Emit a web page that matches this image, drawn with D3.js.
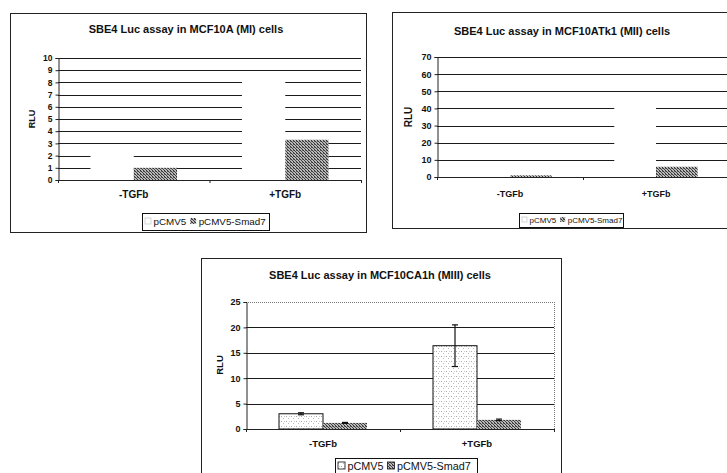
<!DOCTYPE html>
<html><head><meta charset="utf-8">
<script src="https://cdn.jsdelivr.net/npm/d3@7"></script>
<style>
html,body{margin:0;padding:0;background:#fff;}
svg{display:block;font-family:"Liberation Sans",Arial,sans-serif;}
</style></head>
<body>
<svg id="c" width="727" height="473"></svg>
<script>
// ---------- data ----------
const categories = ["-TGFb", "+TGFb"];
const seriesNames = ["pCMV5", "pCMV5-Smad7"];
const titles = [
  "SBE4 Luc assay in MCF10A (MI) cells",
  "SBE4 Luc assay in MCF10ATk1 (MII) cells",
  "SBE4 Luc assay in MCF10CA1h (MIII) cells"
];
const mcf10aPCMV5 = [2.3, 8.6];
const mcf10aSmad7 = [1.0, 3.3];
const atk1PCMV5 = [3.0, 44];
const atk1Smad7 = [1.0, 6.0];
const ca1hPCMV5 = [3.0, 16.4];
const ca1hSmad7 = [1.2, 1.8];
const ca1hPCMV5Err = [0.2, 4.1];
const ca1hSmad7Err = [0.1, 0.15];
const ticksA = [0,1,2,3,4,5,6,7,8,9,10];
const ticksB = [0,10,20,30,40,50,60,70];
const ticksC = [0,5,10,15,20,25];
const yLabel = "RLU";

// ---------- drawing ----------
const svg = d3.select("#c");
const defs = svg.append("defs");
const pd = defs.append("pattern").attr("id","dark").attr("width",3).attr("height",3)
  .attr("patternUnits","userSpaceOnUse");
pd.append("rect").attr("width",3).attr("height",3).attr("fill","#b8b8b8");
pd.append("rect").attr("x",0).attr("y",0).attr("width",1).attr("height",1).attr("fill","#333");
pd.append("rect").attr("x",1).attr("y",1).attr("width",1).attr("height",1).attr("fill","#444");
pd.append("rect").attr("x",2).attr("y",2).attr("width",1).attr("height",1).attr("fill","#333");
pd.append("rect").attr("x",2).attr("y",0).attr("width",1).attr("height",1).attr("fill","#666");
const pl = defs.append("pattern").attr("id","light").attr("width",5).attr("height",5)
  .attr("patternUnits","userSpaceOnUse");
pl.append("rect").attr("width",5).attr("height",5).attr("fill","#fff");
pl.append("rect").attr("x",1).attr("y",1).attr("width",1).attr("height",1).attr("fill","#aaa");
pl.append("rect").attr("x",3).attr("y",3).attr("width",1).attr("height",1).attr("fill","#bbb");
pl.append("rect").attr("x",4).attr("y",1).attr("width",1).attr("height",1).attr("fill","#ccc");

function drawChart(cfg){
  const f = cfg.fonts;
  const g = svg.append("g");
  g.append("rect").attr("x",cfg.frame[0]+0.5).attr("y",cfg.frame[1]+0.5)
    .attr("width",cfg.frame[2]-cfg.frame[0]).attr("height",cfg.frame[3]-cfg.frame[1])
    .attr("fill","#fff").attr("stroke","#222").attr("stroke-width",1);
  const [L,T,R,B] = cfg.plot;
  const x = d3.scaleBand().domain(categories).range([L,R]).paddingInner(0).paddingOuter(0);
  const xs = d3.scaleBand().domain(seriesNames).range([0,x.bandwidth()]).paddingInner(0).paddingOuter(0.75);
  const y = d3.scaleLinear().domain([0, cfg.ticks[cfg.ticks.length-1]]).range([B,T]);

  g.append("g").selectAll("line").data(cfg.ticks.filter(t=>t>0)).join("line")
    .attr("x1",L).attr("x2",R)
    .attr("y1",d=>Math.round(y(d))+0.5).attr("y2",d=>Math.round(y(d))+0.5)
    .attr("stroke",(d,i,a)=> (cfg.dottedTop && i===a.length-1) ? "#777" : "#1a1a1a")
    .attr("stroke-dasharray",(d,i,a)=> (cfg.dottedTop && i===a.length-1) ? "1,1" : null)
    .attr("stroke-width",1);
  if(cfg.dottedTop){
    g.append("line").attr("x1",R+0.5).attr("x2",R+0.5).attr("y1",T).attr("y2",B)
      .attr("stroke","#777").attr("stroke-dasharray","1,1");
  }

  const rows = [];
  categories.forEach((c,i)=>{
    rows.push({cat:c, s:seriesNames[0], v:cfg.a[i], e:cfg.ae?cfg.ae[i]:null});
    rows.push({cat:c, s:seriesNames[1], v:cfg.b[i], e:cfg.be?cfg.be[i]:null});
  });
  g.append("g").selectAll("rect").data(rows).join("rect")
    .attr("x",d=>x(d.cat)+xs(d.s)).attr("width",xs.bandwidth())
    .attr("y",d=>y(d.v)).attr("height",d=>y(0)-y(d.v))
    .attr("fill",d=> d.s===seriesNames[0] ? (cfg.lightFill ? "url(#light)" : "#fff") : "url(#dark)")
    .attr("stroke",d=> d.s===seriesNames[0] ? (cfg.lightFill ? "#111" : "none") : "none")
    .attr("stroke-width",1);

  const eb = rows.filter(d=>d.e!=null);
  const eg = g.append("g").selectAll("g").data(eb).join("g");
  const cx0 = d=>x(d.cat)+xs(d.s)+xs.bandwidth()/2;
  eg.append("line").attr("x1",cx0).attr("x2",cx0)
    .attr("y1",d=>y(d.v+d.e)).attr("y2",d=>y(d.v-d.e)).attr("stroke","#111").attr("stroke-width",1.2);
  [1,-1].forEach(sg=>{
    eg.append("line")
      .attr("x1",d=>cx0(d)-3).attr("x2",d=>cx0(d)+3)
      .attr("y1",d=>y(d.v+sg*d.e)).attr("y2",d=>y(d.v+sg*d.e)).attr("stroke","#111").attr("stroke-width",1.2);
  });

  const ya = d3.axisLeft(y).tickValues(cfg.ticks).tickSize(3).tickPadding(3).tickFormat(d3.format("d"));
  const yg = g.append("g").attr("transform",`translate(${L+0.5},0)`).call(ya);
  yg.select(".domain").attr("stroke","#222");
  yg.selectAll(".tick line").attr("stroke","#222");
  yg.selectAll("text").attr("font-size",f.tick).attr("font-weight","bold").attr("fill","#111")
    .attr("font-family","Liberation Sans, Arial, sans-serif");

  g.append("line").attr("x1",L).attr("x2",R).attr("y1",Math.round(B)+0.5).attr("y2",Math.round(B)+0.5)
    .attr("stroke","#222");
  const bounds = [L].concat(categories.map(c=>x(c)+x.bandwidth()));
  g.append("g").selectAll("line").data(bounds).join("line")
    .attr("x1",d=>d+0.5).attr("x2",d=>d+0.5).attr("y1",B).attr("y2",B+3).attr("stroke","#222");
  g.append("g").selectAll("text").data(categories).join("text")
    .attr("x",d=>x(d)+x.bandwidth()/2).attr("y",cfg.catY)
    .attr("text-anchor","middle").attr("font-size",f.cat).attr("font-weight","bold").attr("fill","#111")
    .text(d=>d);

  g.append("text").attr("transform",`translate(${cfg.ylab[0]},${cfg.ylab[1]}) rotate(-90)`)
    .attr("text-anchor","middle").attr("font-size",f.ylab).attr("font-weight","bold").attr("fill","#111")
    .text(yLabel);

  g.append("text").attr("x",cfg.titlePos[0]).attr("y",cfg.titlePos[1])
    .attr("text-anchor","middle").attr("font-size",f.title).attr("font-weight","bold").attr("fill","#111")
    .text(cfg.title);

  const [lx0,ly0,lx1,ly1] = cfg.legend;
  const lg = g.append("g");
  lg.append("rect").attr("x",lx0+0.5).attr("y",ly0+0.5).attr("width",lx1-lx0).attr("height",ly1-ly0)
    .attr("fill","#fff").attr("stroke","#111");
  const cy = cfg.legendY;
  const sw = cfg.sw;
  let cx = lx0+3;
  seriesNames.forEach((s,i)=>{
    const it = lg.append("g");
    it.append("rect").attr("x",cx).attr("y",cy-sw/2-0.5).attr("width",sw).attr("height",sw)
      .attr("fill", i===0 ? (cfg.lightFill ? "url(#light)" : "#fff") : "url(#dark)")
      .attr("stroke", cfg.lightFill ? "#111" : (i===0 ? "#ccc" : "none")).attr("stroke-width",0.8);
    const t = it.append("text").attr("x",cx+sw+2.5).attr("y",cy+f.legend*0.36)
      .attr("font-size",f.legend).attr("fill","#111").text(s);
    cx = cx + sw + 2.5 + t.node().getComputedTextLength() + 4;
  });
}

drawChart({title:titles[0], a:mcf10aPCMV5, b:mcf10aSmad7, ticks:ticksA,
  frame:[10,13,366,232], plot:[58,58,361,180], catY:198, ylab:[35,119],
  titlePos:[186,33], legend:[142,213,269,230], legendY:221.5, sw:6,
  fonts:{title:11, tick:8.5, cat:10, ylab:9, legend:9.8}});
drawChart({title:titles[1], a:atk1PCMV5, b:atk1Smad7, ticks:ticksB,
  frame:[392,12,745,228], plot:[437,57,729,177], catY:196.5, ylab:[412,117],
  titlePos:[562,35], legend:[519,213,623,227], legendY:220, sw:5,
  fonts:{title:11, tick:9, cat:9, ylab:10, legend:8}});
drawChart({title:titles[2], a:ca1hPCMV5, b:ca1hSmad7, ae:ca1hPCMV5Err, be:ca1hSmad7Err, ticks:ticksC,
  frame:[201,258,561,490], plot:[246,302,554,429], catY:447, ylab:[223,365],
  titlePos:[380,279], legend:[335,458,477,490], legendY:466, sw:7,
  fonts:{title:11, tick:9, cat:9.5, ylab:9.5, legend:10.8},
  lightFill:true, dottedTop:true});
</script>
</body></html>
